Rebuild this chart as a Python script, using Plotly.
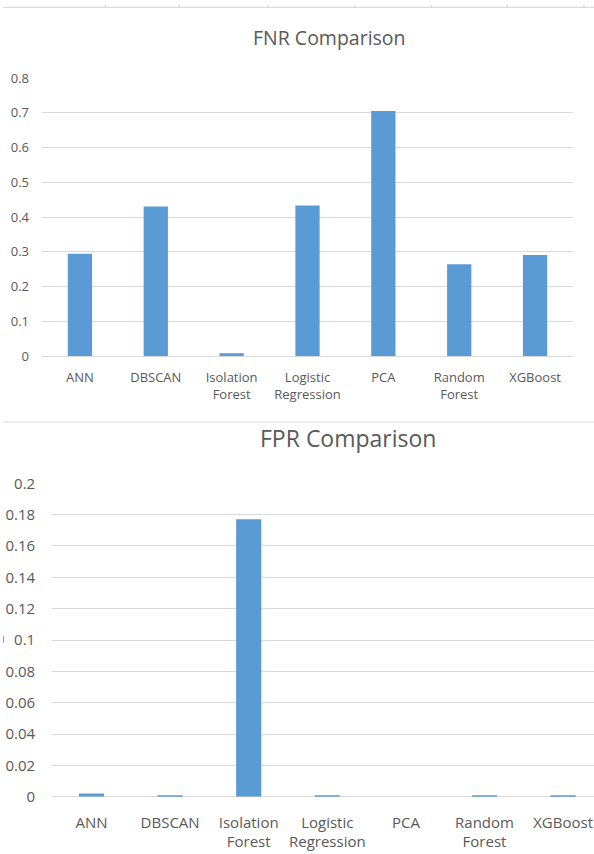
import plotly.graph_objects as go

# Model names shown on both category axes
models = ["ANN", "DBSCAN", "Isolation<br>Forest", "Logistic<br>Regression",
          "PCA", "Random<br>Forest", "XGBoost"]

# False negative rate per model
fnr_values = [0.294, 0.430, 0.008, 0.433, 0.705, 0.264, 0.291]

# False positive rate per model
fpr_values = [0.002, 0.001, 0.177, 0.001, 0.0, 0.001, 0.001]

fnr_ticks = [0, 0.1, 0.2, 0.3, 0.4, 0.5, 0.6, 0.7, 0.8]
fpr_ticks = [0, 0.02, 0.04, 0.06, 0.08, 0.1, 0.12, 0.14, 0.16, 0.18, 0.2]

W, H = 594, 854
FONT = "Open Sans, sans-serif"
TEXT = "#595959"
GRID = "#d9d9d9"
BAR = "#5b9bd5"


def px_x(v):
    return v / W


def px_y(v):
    return 1 - v / H


fig = go.Figure()

fig.add_trace(go.Bar(x=models, y=fnr_values, marker=dict(color=BAR, line=dict(width=0)),
                     xaxis="x", yaxis="y", width=0.32, showlegend=False,
                     hoverinfo="x+y"))
fig.add_trace(go.Bar(x=models, y=fpr_values, marker=dict(color=BAR, line=dict(width=0)),
                     xaxis="x2", yaxis="y2", width=0.32, showlegend=False,
                     hoverinfo="x+y"))

common_y = dict(showgrid=True, gridcolor=GRID, gridwidth=1, zeroline=True,
                zerolinecolor=GRID, zerolinewidth=1, showline=False,
                ticks="", color=TEXT, automargin=False)
common_x = dict(showgrid=False, zeroline=False, showline=False, ticks="",
                color=TEXT, type="category", tickangle=0, automargin=False)

fig.update_layout(
    width=W, height=H,
    margin=dict(l=0, r=0, t=0, b=0, autoexpand=False),
    paper_bgcolor="white", plot_bgcolor="white",
    font=dict(family=FONT, color=TEXT),
    xaxis=dict(domain=[px_x(42), px_x(573)], anchor="y", range=[-0.5, 6.5],
               tickfont=dict(size=13, family=FONT, color=TEXT),
               ticklabelstandoff=12, **common_x),
    yaxis=dict(domain=[px_y(356), px_y(78)], anchor="x", range=[0, 0.8],
               tickvals=fnr_ticks, ticktext=[f"{t:g}" for t in fnr_ticks],
               tickfont=dict(size=13, family=FONT, color=TEXT),
               ticklabelstandoff=12, **common_y),
    xaxis2=dict(domain=[px_x(52.2), 1], anchor="y2", range=[-0.5, 6.393],
                tickfont=dict(size=15, family=FONT, color=TEXT),
                ticklabelstandoff=15, **common_x),
    yaxis2=dict(domain=[px_y(796.7), px_y(483.3)], anchor="x2", range=[0, 0.2],
                tickvals=fpr_ticks, ticktext=[f"{t:g}" for t in fpr_ticks],
                tickfont=dict(size=15, family=FONT, color=TEXT),
                ticklabelstandoff=16, **common_y),
    annotations=[
        dict(text="FNR Comparison", x=px_x(329), y=px_y(37), xref="paper", yref="paper",
             xanchor="center", yanchor="middle", showarrow=False,
             font=dict(size=19.5, family=FONT, color=TEXT)),
        dict(text="FPR Comparison", x=px_x(348), y=px_y(438), xref="paper", yref="paper",
             xanchor="center", yanchor="middle", showarrow=False,
             font=dict(size=23, family=FONT, color=TEXT)),
    ],
)

# Cropped chart borders: the axis of a panel above and the divider between panels
shapes = [
    dict(type="line", xref="paper", yref="paper", x0=px_x(3), x1=1,
         y0=px_y(7.3), y1=px_y(7.3), line=dict(color="#dcdcdc", width=1.2)),
    dict(type="line", xref="paper", yref="paper", x0=px_x(3), x1=1,
         y0=px_y(422), y1=px_y(422), line=dict(color="#dcdcdc", width=1)),
    dict(type="line", xref="paper", yref="paper", x0=px_x(3.5), x1=px_x(3.5),
         y0=px_y(636), y1=px_y(643), line=dict(color="#9a9a9a", width=1)),
]
for tx in [105.3, 179.3, 268.3, 355, 431.3, 507.3, 584]:
    shapes.append(dict(type="line", xref="paper", yref="paper", x0=px_x(tx), x1=px_x(tx),
                       y0=px_y(7.3), y1=px_y(5), line=dict(color="#cfcfcf", width=1)))
fig.update_layout(shapes=shapes)

fig.write_html("out.html")
